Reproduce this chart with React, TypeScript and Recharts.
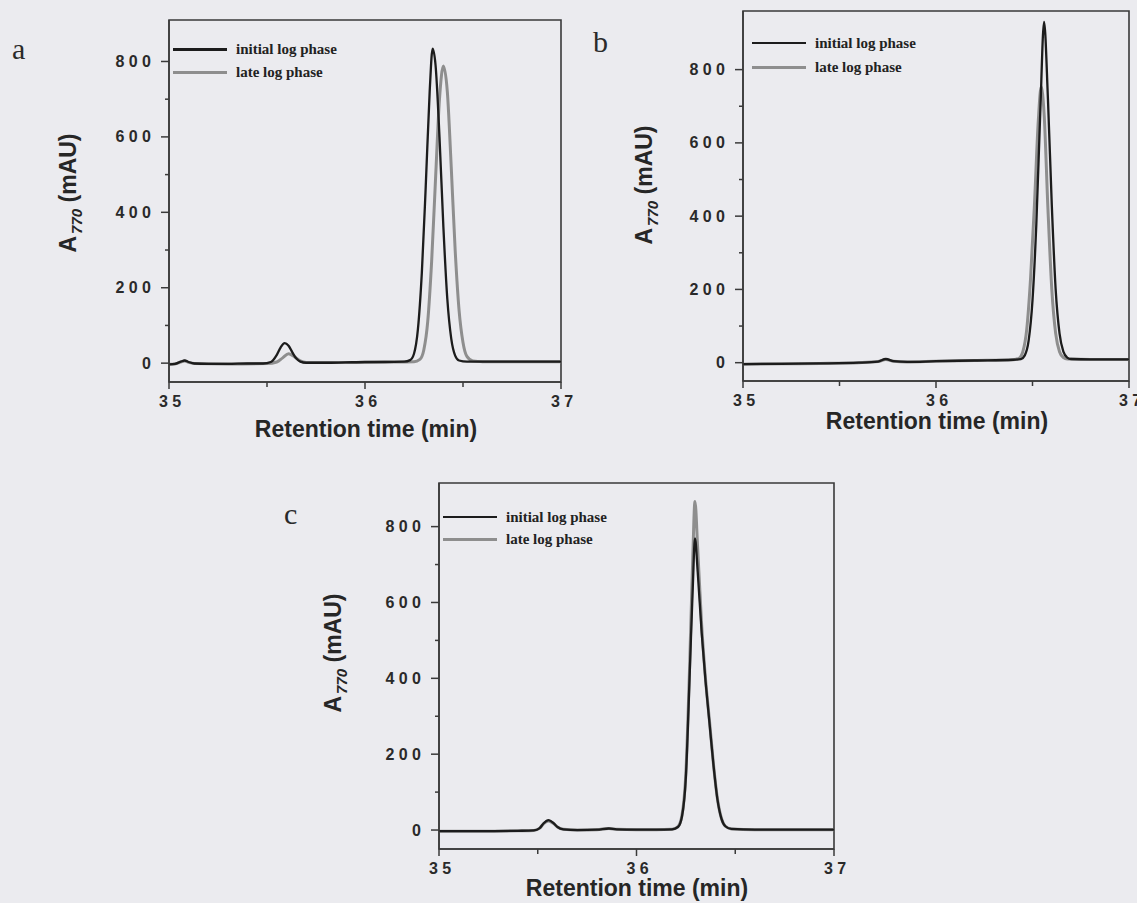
import { LineChart, Line, XAxis, YAxis, Legend, ReferenceArea } from "recharts";

// chromatograms, [retention time (min), A770 (mAU)]
const aInitial = [
  [35.0, -3], [35.03, -2], [35.06, 4], [35.08, 7], [35.1, 3], [35.13, -1], [35.2, -2], [35.3, -2],
  [35.4, -1], [35.48, -1], [35.52, 3], [35.55, 22], [35.57, 42], [35.59, 53], [35.61, 46], [35.63, 28],
  [35.65, 12], [35.67, 4], [35.7, 1], [35.8, 1], [35.9, 2], [36.0, 3], [36.1, 3], [36.2, 4],
  [36.23, 8], [36.25, 25], [36.27, 90], [36.29, 240], [36.31, 470], [36.33, 720], [36.345, 834],
  [36.36, 790], [36.38, 600], [36.4, 360], [36.42, 170], [36.44, 65], [36.46, 20], [36.48, 7],
  [36.52, 4], [36.6, 4], [36.8, 4], [37.0, 4],
];
const aLate = [
  [35.0, -3], [35.03, -2], [35.06, 3], [35.08, 6], [35.1, 2], [35.13, -1], [35.3, -2], [35.5, -1],
  [35.55, 3], [35.58, 14], [35.61, 25], [35.64, 17], [35.67, 6], [35.7, 2], [35.9, 2], [36.1, 3],
  [36.25, 4], [36.28, 10], [36.3, 35], [36.32, 110], [36.34, 270], [36.36, 490], [36.38, 700],
  [36.4, 788], [36.42, 720], [36.44, 520], [36.46, 300], [36.48, 140], [36.5, 55], [36.52, 18],
  [36.55, 6], [36.6, 4], [36.8, 4], [37.0, 4],
];
const bInitial = [
  [35.0, -4], [35.2, -3], [35.4, -2], [35.6, 0], [35.7, 3], [35.74, 10], [35.78, 4], [35.85, 2],
  [36.0, 4], [36.2, 6], [36.4, 8], [36.44, 10], [36.46, 20], [36.48, 60], [36.5, 170], [36.52, 380],
  [36.54, 680], [36.56, 930], [36.58, 720], [36.6, 430], [36.62, 200], [36.64, 80], [36.66, 30],
  [36.68, 14], [36.7, 10], [36.8, 9], [37.0, 9],
];
const bLate = [
  [35.0, -4], [35.2, -3], [35.4, -2], [35.6, 0], [35.7, 3], [35.74, 9], [35.78, 4], [35.85, 2],
  [36.0, 4], [36.2, 6], [36.4, 8], [36.43, 12], [36.45, 30], [36.47, 90], [36.49, 230], [36.51, 430],
  [36.53, 660], [36.545, 753], [36.56, 680], [36.58, 420], [36.6, 200], [36.62, 80], [36.64, 30],
  [36.66, 14], [36.68, 10], [36.8, 9], [37.0, 9],
];
const cInitial = [
  [35.0, -3], [35.2, -3], [35.4, -2], [35.48, -1], [35.51, 5], [35.53, 18], [35.555, 26], [35.58, 18],
  [35.6, 8], [35.63, 2], [35.7, 0], [35.8, 1], [35.86, 4], [35.9, 2], [36.0, 1], [36.1, 1],
  [36.18, 2], [36.21, 8], [36.23, 35], [36.25, 140], [36.27, 420], [36.285, 640], [36.296, 769],
  [36.31, 680], [36.33, 520], [36.35, 390], [36.37, 280], [36.39, 170], [36.41, 80], [36.43, 30],
  [36.45, 10], [36.48, 3], [36.6, 1], [36.8, 1], [37.0, 1],
];
const cLate = [
  [35.0, -3], [35.2, -3], [35.4, -2], [35.48, -1], [35.51, 5], [35.53, 17], [35.555, 24], [35.58, 17],
  [35.6, 8], [35.63, 2], [35.7, 0], [35.8, 1], [35.86, 4], [35.9, 2], [36.0, 1], [36.1, 1],
  [36.18, 2], [36.21, 9], [36.23, 38], [36.25, 150], [36.27, 450], [36.285, 720], [36.296, 866],
  [36.31, 740], [36.33, 540], [36.35, 395], [36.37, 285], [36.39, 172], [36.41, 82], [36.43, 31],
  [36.45, 10], [36.48, 3], [36.6, 1], [36.8, 1], [37.0, 1],
];

const xTicks = [35, 35.5, 36, 36.5, 37];
const yTicks = [0, 100, 200, 300, 400, 500, 600, 700, 800];
const seriesNames = ["initial log phase", "late log phase"];

const PAPER = "#ebebef";
const AXIS = "#3a3a3a";
const BLACK = "#1c1c1c";
const GRAY = "#8e8e8e";
const SANS = "'Liberation Sans', Arial, sans-serif";
const SERIF = "'Liberation Serif', 'Times New Roman', serif";

const toPts = (rows: number[][]) => rows.map(([t, v]) => ({ t, v }));
const spaced = (v: number) => String(v).split("").join(" ");

function XTick(props: any) {
  const { x, y, payload } = props;
  const major = Number.isInteger(payload.value);
  return (
    <g>
      <line x1={x} x2={x} y1={y} y2={y + (major ? 7 : 5)} stroke={AXIS} strokeWidth={1.5} />
      {major && (
        <text x={x + 1} y={y + 19} textAnchor="middle" dominantBaseline="central"
          fontFamily={SANS} fontWeight={700} fontSize={16} fill="#2a2a2a">
          {spaced(payload.value)}
        </text>
      )}
    </g>
  );
}

function YTick(props: any) {
  const { x, y, payload } = props;
  const major = payload.value % 200 === 0;
  return (
    <g>
      <line x1={x} x2={x - (major ? 8 : 4)} y1={y} y2={y} stroke={AXIS} strokeWidth={1.5} />
      {major && (
        <text x={x - 18} y={y} textAnchor="end" dominantBaseline="central"
          fontFamily={SANS} fontWeight={700} fontSize={16} fill="#2a2a2a">
          {spaced(payload.value)}
        </text>
      )}
    </g>
  );
}

function legendBox(rowH: number) {
  return () => (
    <div style={{ fontFamily: SERIF, fontWeight: 700, fontSize: 15, color: "#222" }}>
      {seriesNames.map((n, i) => (
        <div key={n} style={{ display: "flex", alignItems: "center", height: rowH }}>
          <div style={{ width: 54, height: i === 0 ? 2.5 : 3, background: i === 0 ? BLACK : GRAY, marginRight: 9 }} />
          <span>{n}</span>
        </div>
      ))}
    </div>
  );
}

interface PanelProps {
  left: number;
  top: number;
  width: number;
  height: number;
  margin: { top: number; right: number; bottom: number; left: number };
  yMax: number;
  initial: number[][];
  late: number[][];
  legend: { left: number; top: number; rowH: number };
}

function Panel({ left, top, width, height, margin, yMax, initial, late, legend }: PanelProps) {
  const yDomain = [-50, yMax];
  return (
    <div style={{ position: "absolute", left, top }}>
      <LineChart width={width} height={height} margin={margin}>
        <XAxis dataKey="t" type="number" domain={[35, 37]} ticks={xTicks} allowDataOverflow
          tickSize={0} tickMargin={0} tick={XTick} tickLine={false} height={40}
          axisLine={{ stroke: AXIS, strokeWidth: 1.5 }} />
        <YAxis type="number" domain={yDomain} ticks={yTicks} allowDataOverflow tickSize={0}
          tickMargin={0} tick={YTick} tickLine={false} width={60}
          axisLine={{ stroke: AXIS, strokeWidth: 1.5 }} />
        {/* plot frame */}
        <ReferenceArea x1={35} x2={37} y1={-50} y2={yMax} fill="none" stroke={AXIS}
          strokeWidth={1.6} ifOverflow="visible" />
        <Legend layout="vertical" verticalAlign="middle" align="center" content={legendBox(legend.rowH)}
          wrapperStyle={{ left: legend.left, top: legend.top, width: 220 }} />
        <Line data={toPts(late)} dataKey="v" name={seriesNames[1]} type="monotone" stroke={GRAY}
          strokeWidth={3} dot={false} isAnimationActive={false} />
        <Line data={toPts(initial)} dataKey="v" name={seriesNames[0]} type="monotone" stroke={BLACK}
          strokeWidth={2.3} dot={false} isAnimationActive={false} />
      </LineChart>
    </div>
  );
}

const titleStyle: React.CSSProperties = {
  position: "absolute",
  fontFamily: SANS,
  fontWeight: 700,
  fontSize: 23,
  color: "#262626",
  whiteSpace: "nowrap",
  lineHeight: 1,
};

function XTitle({ cx, cy }: { cx: number; cy: number }) {
  return (
    <div style={{ ...titleStyle, left: cx, top: cy, transform: "translate(-50%, -50%)" }}>
      Retention time (min)
    </div>
  );
}

function YTitle({ cx, cy }: { cx: number; cy: number }) {
  return (
    <div style={{ ...titleStyle, left: cx, top: cy, transform: "translate(-50%, -50%) rotate(-90deg)" }}>
      A<sub style={{ fontSize: 15, fontStyle: "italic", marginLeft: 2 }}>770</sub> (mAU)
    </div>
  );
}

function Letter({ x, y, ch }: { x: number; y: number; ch: string }) {
  return (
    <div style={{ position: "absolute", left: x, top: y, fontFamily: SERIF, fontSize: 30, lineHeight: 1, color: "#2a2a2a" }}>
      {ch}
    </div>
  );
}

export default function App() {
  return (
    <div style={{ position: "absolute", left: 0, top: 0, width: 1137, height: 903, background: PAPER, overflow: "hidden" }}>
      <Panel left={0} top={0} width={600} height={450}
        margin={{ top: 20, right: 39, bottom: 28, left: 109 }} yMax={910}
        initial={aInitial} late={aLate} legend={{ left: 173, top: 38, rowH: 23 }} />
      <Panel left={600} top={0} width={537} height={450}
        margin={{ top: 11, right: 8, bottom: 29, left: 83 }} yMax={960}
        initial={bInitial} late={bLate} legend={{ left: 152, top: 31, rowH: 24 }} />
      <Panel left={300} top={460} width={600} height={443}
        margin={{ top: 23, right: 66, bottom: 14, left: 79 }} yMax={915}
        initial={cInitial} late={cLate} legend={{ left: 143, top: 46, rowH: 22 }} />

      <Letter x={12} y={34} ch="a" />
      <Letter x={593} y={27} ch="b" />
      <Letter x={284} y={499} ch="c" />

      <XTitle cx={366} cy={429} />
      <XTitle cx={937} cy={421} />
      <XTitle cx={637} cy={888} />

      <YTitle cx={70} cy={193} />
      <YTitle cx={646} cy={185} />
      <YTitle cx={335} cy={653} />
    </div>
  );
}
